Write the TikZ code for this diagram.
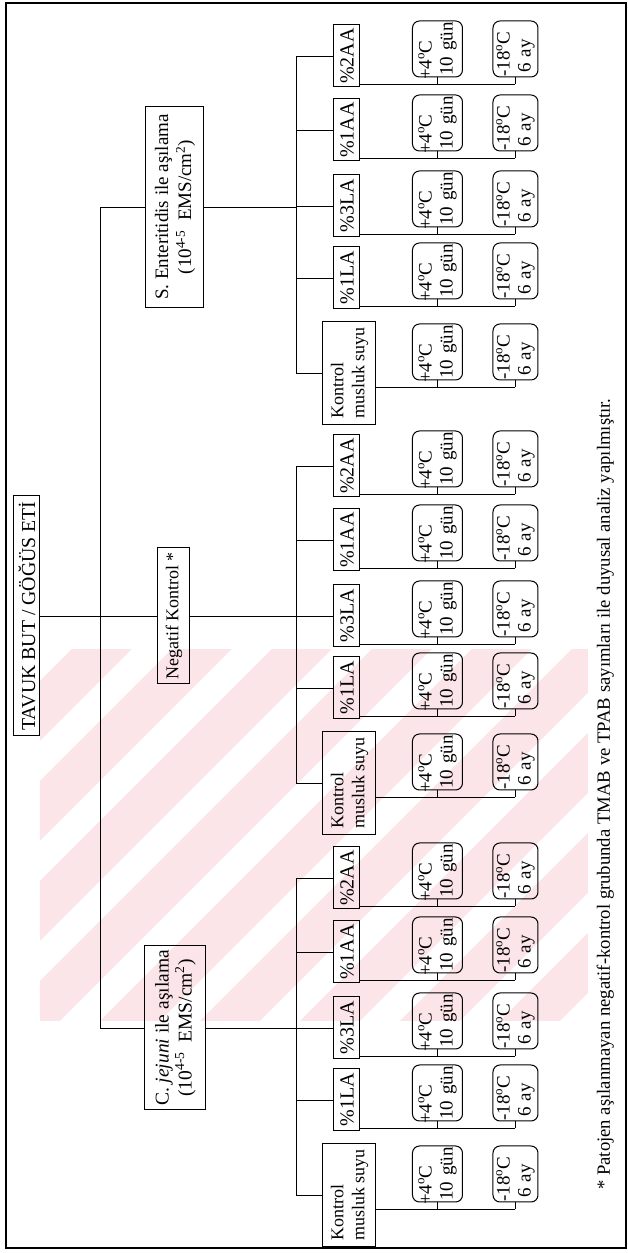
\documentclass[tikz,border=0pt]{standalone}
\usepackage{fontspec}
\setmainfont{Liberation Serif}
\definecolor{wm}{RGB}{251,229,232}
\newcommand{\dg}{\raisebox{0.38em}{\fontsize{13}{13}\selectfont o}}
\tikzset{
  sq/.style={draw, line width=1pt, inner sep=1pt, align=center},
  brbox/.style={sq, minimum width=62pt, minimum height=26pt, font=\fontsize{20}{22}\selectfont},
  ktbox/.style={sq, minimum width=103pt, minimum height=53pt, align=left, font=\fontsize{18}{21}\selectfont},
  rb/.style={draw, line width=1pt, rounded corners=7pt, inner sep=0pt, text width=56pt, align=left, font=\fontsize{19}{21}\selectfont},
  ln/.style={line width=0.9pt},
}
\begin{document}
\begin{tikzpicture}[x=1pt,y=1pt,rotate=90,transform shape]
\useasboundingbox (0,0) rectangle (1253,628);
% watermark
\begin{scope}
\clip (232,40) rectangle (603,588);
\foreach \c in {100,200,...,1300} {
  \fill[wm] (\c,0) -- ++(60,0) -- ++(-700,700) -- ++(-60,0) -- cycle;
}
\end{scope}
% frame
\draw[line width=1.3pt] (5,2) rectangle (1250,622);
% top level
\node[sq, minimum width=240pt, minimum height=26pt, font=\fontsize{19.8}{22}\selectfont] (root) at (637,601) {TAVUK BUT / GÖĞÜS ETİ};
\node[sq, minimum width=136pt, minimum height=32pt, font=\fontsize{18}{20}\selectfont] (ng) at (637,454) {Negatif Kontrol *};
\node[sq, minimum width=201pt, minimum height=58pt, font=\fontsize{19}{23}\selectfont] (se) at (1046,453) {S. Enteritidis ile aşılama\\(10\textsuperscript{4-5}\enspace EMS/cm\textsuperscript{2})};
\node[sq, minimum width=164pt, minimum height=61pt, font=\fontsize{19.5}{23}\selectfont] (cj) at (225,452.5) {C. \textit{jejuni} ile aşılama\\(10\textsuperscript{4-5}\enspace EMS/cm\textsuperscript{2})};
\coordinate (spine) at (0,528);
\draw[ln] (se.north) -- (se.north |- spine) -- (cj.north |- spine) -- (cj.north);
\draw[ln] (root.south) -- (ng.north);
% groups
\foreach \g/\gx/\gn in {s/1047/se, n/637/ng, c/225/cj} {
  \coordinate (\g sp) at (\gx,331.5);
  \draw[ln] (\gn.south) -- (\gn.south |- \g sp);
  % Kontrol branch
  \node[ktbox] (\g b1) at (\gx-167,278.5) {Kontrol\\musluk suyu};
  \node[rb, minimum height=50pt] (\g p1) at (\gx-146,190.5) {\hspace*{-3pt}+4\dg C\\\hspace*{1pt}10 gün};
  \node[rb, minimum height=45pt] (\g m1) at (\gx-146,112.5) {\hspace*{0.5pt}-18\dg C\\\hspace*{4pt}6 ay};
  \coordinate (\g c1) at (\gx-181.5,252);
  \draw[ln] (\g c1) -- (\g c1 |- \g m1.west);
  \draw[ln] (\g p1.west) -- (\g p1.west -| \g c1);
  \draw[ln] (\g m1.west) -- (\g m1.west -| \g c1);
  \draw[ln] (\g b1.north) -- (\g b1.north |- \g sp);
  \foreach \k/\off/\lab in {2/-72/\%1LA, 3/0/\%3LA, 4/76/\%1AA, 5/150/\%2AA} {
    \node[brbox] (\g b\k) at (\gx+\off,281) {\lab};
    \node[rb, minimum height=50pt] (\g p\k) at (\gx+\off+7,190.5) {\hspace*{-3pt}+4\dg C\\\hspace*{1pt}10 gün};
    \node[rb, minimum height=45pt] (\g m\k) at (\gx+\off+7,112.5) {\hspace*{0.5pt}-18\dg C\\\hspace*{4pt}6 ay};
    \coordinate (\g c\k) at (\gx+\off-28.5,268);
    \draw[ln] (\g c\k) -- (\g c\k |- \g m\k.west);
    \draw[ln] (\g p\k.west) -- (\g p\k.west -| \g c\k);
    \draw[ln] (\g m\k.west) -- (\g m\k.west -| \g c\k);
    \draw[ln] (\g b\k.north) -- (\g b\k.north |- \g sp);
  }
  \draw[ln] (\g b1.north |- \g sp) -- (\g b5.north |- \g sp);
}
% footnote
\node[anchor=base west, inner sep=0pt, font=\fontsize{18.7}{21}\selectfont] (fn) at (63,18) {* Patojen aşılanmayan negatif-kontrol grubunda TMAB ve TPAB sayımları ile duyusal analiz yapılmıştır.};
\end{tikzpicture}
\end{document}
